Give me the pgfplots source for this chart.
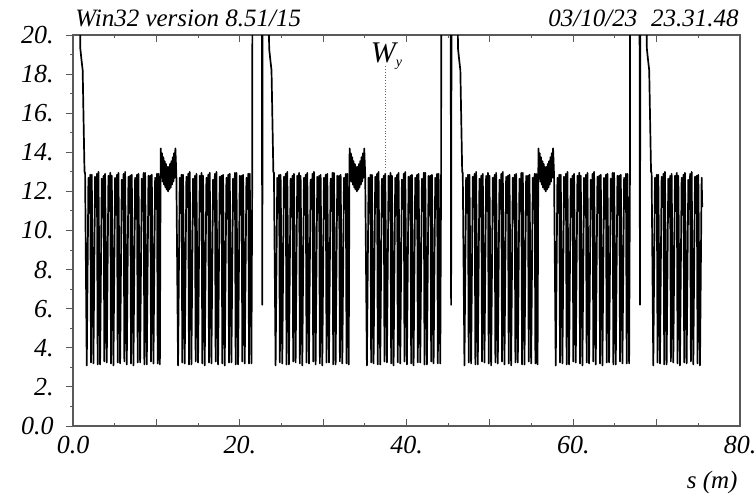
\documentclass[border=0pt]{standalone}
\usepackage{fontspec}
\setmainfont{Liberation Serif}
\usepackage{pgfplots}
\pgfplotsset{compat=1.18}
\tikzset{wline/.style={black, line width=0.85pt, line join=round, mark=none}}
\begin{document}
\begin{tikzpicture}
\useasboundingbox (-36.5pt,-34.5pt) rectangle (340.5pt,213pt);
\begin{axis}[
  name=ax,
  at={(0,0)}, anchor=south west,
  scale only axis, width=333.5pt, height=195.5pt,
  xmin=0, xmax=80, ymin=0, ymax=20,
  axis line style={draw=black!65, line width=0.65pt},
  every tick/.style={draw=black!65, line width=0.5pt},
  xtick={0,10,...,80}, xticklabels={0.0,,20.,,40.,,60.,,80.},
  minor x tick num=1,
  ytick={0,2,...,20},
  yticklabels={0.0,2.,4.,6.,8.,10.,12.,14.,16.,18.,20.},
  minor y tick num=1,
  xtick align=inside, ytick align=outside,
  xtick pos=both, ytick pos=left,
  major tick length=3.5pt, minor tick length=1.5pt,
  ticklabel style={font=\fontsize{13}{15}\selectfont\itshape},
  xticklabel style={yshift=-1.5pt},
  yticklabel style={xshift=-2.6pt},
  clip=true,
]
% first superperiod
\addplot[wline] table[row sep=\\] {
x y\\
0.80 22\\ 0.88 19.3\\ 1.00 18.8\\ 1.16 18.2\\ 1.38 13.0\\
1.45 12.95\\ 1.65 3.10\\ 1.85 12.70\\ 1.97 10.90\\ 2.07 12.85\\ 2.16 3.25\\
2.25 12.85\\ 2.45 3.20\\ 2.65 12.75\\ 2.77 11.20\\ 2.87 12.90\\ 2.96 3.15\\
3.05 13.00\\ 3.25 3.15\\ 3.45 12.65\\ 3.57 10.70\\ 3.67 12.80\\ 3.76 3.30\\
3.85 12.90\\ 4.05 3.25\\ 4.25 12.80\\ 4.37 11.00\\ 4.47 12.95\\ 4.56 3.20\\
4.65 12.80\\ 4.85 3.10\\ 5.05 12.70\\ 5.17 10.80\\ 5.27 12.85\\ 5.36 3.25\\
5.45 12.95\\ 5.65 3.20\\ 5.85 12.60\\ 5.97 11.10\\ 6.07 12.90\\ 6.16 3.30\\
6.25 13.00\\ 6.45 3.15\\ 6.65 12.75\\ 6.77 10.90\\ 6.87 12.80\\ 6.96 3.20\\
7.05 12.85\\ 7.25 3.10\\ 7.45 12.70\\ 7.57 10.60\\ 7.67 12.85\\ 7.76 3.25\\
7.85 12.90\\ 8.05 3.25\\ 8.25 12.65\\ 8.37 11.00\\ 8.47 12.95\\ 8.56 3.15\\
8.65 12.95\\ 8.85 3.15\\ 9.05 12.80\\ 9.17 10.80\\ 9.27 12.80\\ 9.36 3.30\\
9.45 12.85\\ 9.65 3.20\\ 9.85 12.70\\ 9.97 11.10\\ 10.07 12.90\\ 10.16 3.20\\
10.25 12.90\\ 10.42 3.15\\ 10.50 12.40\\
10.53 14.20\\ 10.60 12.70\\ 10.68 13.95\\ 10.76 12.50\\ 10.84 13.75\\ 10.92 12.35\\
11.00 13.55\\ 11.08 12.20\\ 11.16 13.40\\ 11.24 12.10\\ 11.32 13.25\\ 11.40 12.00\\
11.48 13.25\\ 11.56 12.10\\ 11.64 13.40\\ 11.72 12.20\\ 11.80 13.55\\ 11.88 12.35\\
11.96 13.75\\ 12.04 12.50\\ 12.12 13.95\\ 12.20 12.70\\ 12.28 14.20\\
12.40 12.80\\ 12.60 3.10\\ 12.80 12.70\\ 12.92 10.90\\ 13.02 12.85\\ 13.11 3.25\\
13.20 12.85\\ 13.40 3.20\\ 13.60 12.75\\ 13.72 11.20\\ 13.82 12.90\\ 13.91 3.15\\
14.00 13.00\\ 14.20 3.15\\ 14.40 12.65\\ 14.52 10.70\\ 14.62 12.80\\ 14.71 3.30\\
14.80 12.90\\ 15.00 3.25\\ 15.20 12.80\\ 15.32 11.00\\ 15.42 12.95\\ 15.51 3.20\\
15.60 12.80\\ 15.80 3.10\\ 16.00 12.70\\ 16.12 10.80\\ 16.22 12.85\\ 16.31 3.25\\
16.40 12.95\\ 16.60 3.20\\ 16.80 12.60\\ 16.92 11.10\\ 17.02 12.90\\ 17.11 3.30\\
17.20 13.00\\ 17.40 3.15\\ 17.60 12.75\\ 17.72 10.90\\ 17.82 12.80\\ 17.91 3.20\\
18.00 12.85\\ 18.20 3.10\\ 18.40 12.70\\ 18.52 10.60\\ 18.62 12.85\\ 18.71 3.25\\
18.80 12.90\\ 19.00 3.25\\ 19.20 12.65\\ 19.32 11.00\\ 19.42 12.95\\ 19.51 3.15\\
19.60 12.95\\ 19.80 3.15\\ 20.00 12.80\\ 20.12 10.80\\ 20.22 12.80\\ 20.31 3.30\\
20.40 12.85\\ 20.60 3.20\\ 20.80 12.70\\ 20.92 11.10\\ 21.02 12.90\\ 21.11 3.20\\
21.20 12.90\\ 21.40 3.20\\ 21.50 12.90\\ 21.52 25\\
22.64 25\\ 22.70 6.20\\ 22.76 25\\
};
% second superperiod
\addplot[wline] table[row sep=\\] {
x y\\
23.45 22\\ 23.53 19.3\\ 23.65 18.8\\ 23.81 18.2\\ 24.03 13.0\\
24.10 12.95\\ 24.30 3.10\\ 24.50 12.70\\ 24.62 10.90\\ 24.72 12.85\\ 24.81 3.25\\
24.90 12.85\\ 25.10 3.20\\ 25.30 12.75\\ 25.42 11.20\\ 25.52 12.90\\ 25.61 3.15\\
25.70 13.00\\ 25.90 3.15\\ 26.10 12.65\\ 26.22 10.70\\ 26.32 12.80\\ 26.41 3.30\\
26.50 12.90\\ 26.70 3.25\\ 26.90 12.80\\ 27.02 11.00\\ 27.12 12.95\\ 27.21 3.20\\
27.30 12.80\\ 27.50 3.10\\ 27.70 12.70\\ 27.82 10.80\\ 27.92 12.85\\ 28.01 3.25\\
28.10 12.95\\ 28.30 3.20\\ 28.50 12.60\\ 28.62 11.10\\ 28.72 12.90\\ 28.81 3.30\\
28.90 13.00\\ 29.10 3.15\\ 29.30 12.75\\ 29.42 10.90\\ 29.52 12.80\\ 29.61 3.20\\
29.70 12.85\\ 29.90 3.10\\ 30.10 12.70\\ 30.22 10.60\\ 30.32 12.85\\ 30.41 3.25\\
30.50 12.90\\ 30.70 3.25\\ 30.90 12.65\\ 31.02 11.00\\ 31.12 12.95\\ 31.21 3.15\\
31.30 12.95\\ 31.50 3.15\\ 31.70 12.80\\ 31.82 10.80\\ 31.92 12.80\\ 32.01 3.30\\
32.10 12.85\\ 32.30 3.20\\ 32.50 12.70\\ 32.62 11.10\\ 32.72 12.90\\ 32.81 3.20\\
32.90 12.90\\ 33.07 3.15\\ 33.15 12.40\\
33.18 14.20\\ 33.25 12.70\\ 33.33 13.95\\ 33.41 12.50\\ 33.49 13.75\\ 33.57 12.35\\
33.65 13.55\\ 33.73 12.20\\ 33.81 13.40\\ 33.89 12.10\\ 33.97 13.25\\ 34.05 12.00\\
34.13 13.25\\ 34.21 12.10\\ 34.29 13.40\\ 34.37 12.20\\ 34.45 13.55\\ 34.53 12.35\\
34.61 13.75\\ 34.69 12.50\\ 34.77 13.95\\ 34.85 12.70\\ 34.93 14.20\\
35.05 12.80\\ 35.25 3.10\\ 35.45 12.70\\ 35.57 10.90\\ 35.67 12.85\\ 35.76 3.25\\
35.85 12.85\\ 36.05 3.20\\ 36.25 12.75\\ 36.37 11.20\\ 36.47 12.90\\ 36.56 3.15\\
36.65 13.00\\ 36.85 3.15\\ 37.05 12.65\\ 37.17 10.70\\ 37.27 12.80\\ 37.36 3.30\\
37.45 12.90\\ 37.65 3.25\\ 37.85 12.80\\ 37.97 11.00\\ 38.07 12.95\\ 38.16 3.20\\
38.25 12.80\\ 38.45 3.10\\ 38.65 12.70\\ 38.77 10.80\\ 38.87 12.85\\ 38.96 3.25\\
39.05 12.95\\ 39.25 3.20\\ 39.45 12.60\\ 39.57 11.10\\ 39.67 12.90\\ 39.76 3.30\\
39.85 13.00\\ 40.05 3.15\\ 40.25 12.75\\ 40.37 10.90\\ 40.47 12.80\\ 40.56 3.20\\
40.65 12.85\\ 40.85 3.10\\ 41.05 12.70\\ 41.17 10.60\\ 41.27 12.85\\ 41.36 3.25\\
41.45 12.90\\ 41.65 3.25\\ 41.85 12.65\\ 41.97 11.00\\ 42.07 12.95\\ 42.16 3.15\\
42.25 12.95\\ 42.45 3.15\\ 42.65 12.80\\ 42.77 10.80\\ 42.87 12.80\\ 42.96 3.30\\
43.05 12.85\\ 43.25 3.20\\ 43.45 12.70\\ 43.57 11.10\\ 43.67 12.90\\ 43.76 3.20\\
43.85 12.90\\ 44.05 3.20\\ 44.15 12.90\\ 44.17 25\\
45.29 25\\ 45.35 6.20\\ 45.41 25\\
};
% third superperiod
\addplot[wline] table[row sep=\\] {
x y\\
46.10 22\\ 46.18 19.3\\ 46.30 18.8\\ 46.46 18.2\\ 46.68 13.0\\
46.75 12.95\\ 46.95 3.10\\ 47.15 12.70\\ 47.27 10.90\\ 47.37 12.85\\ 47.46 3.25\\
47.55 12.85\\ 47.75 3.20\\ 47.95 12.75\\ 48.07 11.20\\ 48.17 12.90\\ 48.26 3.15\\
48.35 13.00\\ 48.55 3.15\\ 48.75 12.65\\ 48.87 10.70\\ 48.97 12.80\\ 49.06 3.30\\
49.15 12.90\\ 49.35 3.25\\ 49.55 12.80\\ 49.67 11.00\\ 49.77 12.95\\ 49.86 3.20\\
49.95 12.80\\ 50.15 3.10\\ 50.35 12.70\\ 50.47 10.80\\ 50.57 12.85\\ 50.66 3.25\\
50.75 12.95\\ 50.95 3.20\\ 51.15 12.60\\ 51.27 11.10\\ 51.37 12.90\\ 51.46 3.30\\
51.55 13.00\\ 51.75 3.15\\ 51.95 12.75\\ 52.07 10.90\\ 52.17 12.80\\ 52.26 3.20\\
52.35 12.85\\ 52.55 3.10\\ 52.75 12.70\\ 52.87 10.60\\ 52.97 12.85\\ 53.06 3.25\\
53.15 12.90\\ 53.35 3.25\\ 53.55 12.65\\ 53.67 11.00\\ 53.77 12.95\\ 53.86 3.15\\
53.95 12.95\\ 54.15 3.15\\ 54.35 12.80\\ 54.47 10.80\\ 54.57 12.80\\ 54.66 3.30\\
54.75 12.85\\ 54.95 3.20\\ 55.15 12.70\\ 55.27 11.10\\ 55.37 12.90\\ 55.46 3.20\\
55.55 12.90\\ 55.72 3.15\\ 55.80 12.40\\
55.83 14.20\\ 55.90 12.70\\ 55.98 13.95\\ 56.06 12.50\\ 56.14 13.75\\ 56.22 12.35\\
56.30 13.55\\ 56.38 12.20\\ 56.46 13.40\\ 56.54 12.10\\ 56.62 13.25\\ 56.70 12.00\\
56.78 13.25\\ 56.86 12.10\\ 56.94 13.40\\ 57.02 12.20\\ 57.10 13.55\\ 57.18 12.35\\
57.26 13.75\\ 57.34 12.50\\ 57.42 13.95\\ 57.50 12.70\\ 57.58 14.20\\
57.70 12.80\\ 57.90 3.10\\ 58.10 12.70\\ 58.22 10.90\\ 58.32 12.85\\ 58.41 3.25\\
58.50 12.85\\ 58.70 3.20\\ 58.90 12.75\\ 59.02 11.20\\ 59.12 12.90\\ 59.21 3.15\\
59.30 13.00\\ 59.50 3.15\\ 59.70 12.65\\ 59.82 10.70\\ 59.92 12.80\\ 60.01 3.30\\
60.10 12.90\\ 60.30 3.25\\ 60.50 12.80\\ 60.62 11.00\\ 60.72 12.95\\ 60.81 3.20\\
60.90 12.80\\ 61.10 3.10\\ 61.30 12.70\\ 61.42 10.80\\ 61.52 12.85\\ 61.61 3.25\\
61.70 12.95\\ 61.90 3.20\\ 62.10 12.60\\ 62.22 11.10\\ 62.32 12.90\\ 62.41 3.30\\
62.50 13.00\\ 62.70 3.15\\ 62.90 12.75\\ 63.02 10.90\\ 63.12 12.80\\ 63.21 3.20\\
63.30 12.85\\ 63.50 3.10\\ 63.70 12.70\\ 63.82 10.60\\ 63.92 12.85\\ 64.01 3.25\\
64.10 12.90\\ 64.30 3.25\\ 64.50 12.65\\ 64.62 11.00\\ 64.72 12.95\\ 64.81 3.15\\
64.90 12.95\\ 65.10 3.15\\ 65.30 12.80\\ 65.42 10.80\\ 65.52 12.80\\ 65.61 3.30\\
65.70 12.85\\ 65.90 3.20\\ 66.10 12.70\\ 66.22 11.10\\ 66.32 12.90\\ 66.41 3.20\\
66.50 12.90\\ 66.70 3.20\\ 66.80 12.90\\ 66.82 25\\
67.94 25\\ 68.00 6.20\\ 68.06 25\\
};
% last, incomplete arc
\addplot[wline] table[row sep=\\] {
x y\\
68.75 22\\ 68.83 19.3\\ 68.95 18.8\\ 69.11 18.2\\ 69.33 13.0\\
69.40 12.95\\ 69.60 3.10\\ 69.80 12.70\\ 69.92 10.90\\ 70.02 12.85\\ 70.11 3.25\\
70.20 12.85\\ 70.40 3.20\\ 70.60 12.75\\ 70.72 11.20\\ 70.82 12.90\\ 70.91 3.15\\
71.00 13.00\\ 71.20 3.15\\ 71.40 12.65\\ 71.52 10.70\\ 71.62 12.80\\ 71.71 3.30\\
71.80 12.90\\ 72.00 3.25\\ 72.20 12.80\\ 72.32 11.00\\ 72.42 12.95\\ 72.51 3.20\\
72.60 12.80\\ 72.80 3.10\\ 73.00 12.70\\ 73.12 10.80\\ 73.22 12.85\\ 73.31 3.25\\
73.40 12.95\\ 73.60 3.20\\ 73.80 12.60\\ 73.92 11.10\\ 74.02 12.90\\ 74.11 3.30\\
74.20 13.00\\ 74.40 3.15\\ 74.60 12.75\\ 74.72 10.90\\ 74.82 12.80\\ 74.91 3.20\\
75.00 12.85\\ 75.20 3.10\\ 75.40 12.70\\ 75.47 11.20\\
};
% marker of the plotted function
\addplot[black!60, line width=0.4pt, densely dotted, mark=none] coordinates {(37.5,18.4) (37.5,13.1)};
\node[anchor=base, font=\fontsize{15}{17}\selectfont\itshape, inner sep=0pt]
  at (axis cs:37.6,18.6) {W\raisebox{-2pt}{\fontsize{7}{8}\selectfont y}};
\end{axis}
\node[anchor=base west, font=\fontsize{12.5}{14}\selectfont\itshape, inner sep=0pt]
  at ([xshift=1pt, yshift=4.2pt]ax.north west) {Win32 version 8.51/15};
\node[anchor=base east, font=\fontsize{12.5}{14}\selectfont\itshape, inner sep=0pt]
  at ([xshift=-0.5pt, yshift=4.2pt]ax.north east) {03/10/23\hspace{0.55em}23.31.48};
\node[anchor=base east, font=\fontsize{12.5}{14}\selectfont\itshape, inner sep=0pt]
  at ([xshift=-1pt, yshift=-31pt]ax.south east) {s (m)};
\end{tikzpicture}
\end{document}
